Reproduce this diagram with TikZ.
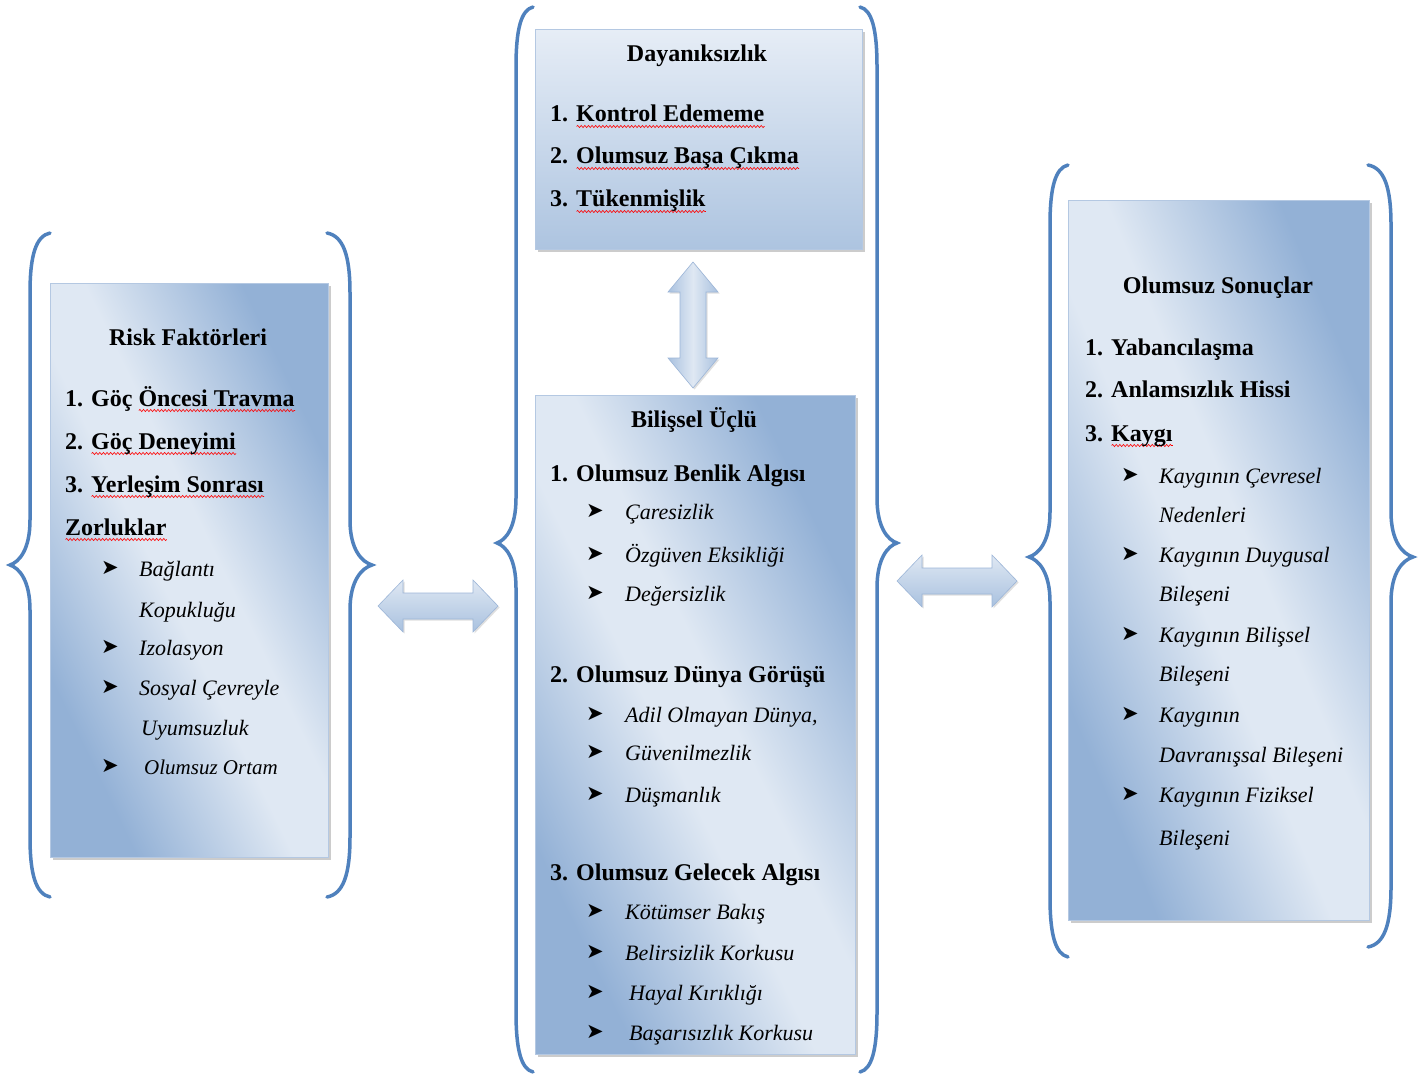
\documentclass[tikz,border=0pt]{standalone}
\usepackage{fontspec}
\setmainfont{Liberation Serif}
\newfontfamily\symf{DejaVu Sans}
\usetikzlibrary{shadows,decorations.pathmorphing}
\definecolor{braceblue}{HTML}{4F81BD}
\definecolor{bxD}{HTML}{93B1D6}
\definecolor{bxL}{HTML}{DFE8F3}
\definecolor{bxB}{HTML}{B4C8E2}
\definecolor{tbT}{HTML}{E6EDF6}
\definecolor{tbB}{HTML}{ADC4E0}
\definecolor{arL}{HTML}{DFE8F3}
\definecolor{arD}{HTML}{A9C1DF}
\definecolor{arB}{HTML}{9DB6D8}
\pgfdeclareverticalshading{boxdiag}{100bp}{color(0bp)=(bxD); color(27bp)=(bxD); color(46bp)=(bxL); color(54bp)=(bxL); color(73bp)=(bxD); color(100bp)=(bxD)}
\newsavebox\sqwbox
\newcommand\sqw[1]{\sbox\sqwbox{#1}\rlap{\raisebox{-4.5pt}{\tikz[baseline=0pt]\draw[red, line width=0.6pt, decorate, decoration={snake, amplitude=1.1pt, segment length=3.6pt}] (0pt,0pt) -- (\wd\sqwbox,0pt);}}\usebox\sqwbox}
\newcommand\curlybr[6]{% end x, spine x, tip x, top y, tip y, bottom y
  \draw[braceline] (#1,#4) .. controls ({#2+0.3*(#1-#2)},{#4+3}) and (#2,{#4+22}) .. (#2,{#4+60})
    -- (#2,{#5-45}) .. controls (#2,{#5-15}) and ({#3+0.45*(#2-#3)},{#5-3}) .. (#3,#5)
    .. controls ({#3+0.45*(#2-#3)},{#5+3}) and (#2,{#5+15}) .. (#2,{#5+45})
    -- (#2,{#6-60}) .. controls (#2,{#6-22}) and ({#2+0.3*(#1-#2)},{#6-3}) .. (#1,#6);}
\newcommand\hdarr[3]{% x1, x2, yc
  \path[blockarrow, top color=arL, bottom color=arD] (#1,#3) -- ({#1+25},{#3-26}) -- ({#1+25},{#3-13}) -- ({#2-25},{#3-13})
    -- ({#2-25},{#3-26}) -- (#2,#3) -- ({#2-25},{#3+26}) -- ({#2-25},{#3+13})
    -- ({#1+25},{#3+13}) -- ({#1+25},{#3+26}) -- cycle;}
\newcommand\vdarr[3]{% xc, y1, y2
  \path[blockarrow, left color=arD, right color=arD, middle color=arL] (#1,#2) -- ({#1+25},{#2+30}) -- ({#1+13},{#2+30}) -- ({#1+13},{#3-30})
    -- ({#1+25},{#3-30}) -- (#1,#3) -- ({#1-25},{#3-30}) -- ({#1-13},{#3-30})
    -- ({#1-13},{#2+30}) -- ({#1-25},{#2+30}) -- cycle;}
\tikzset{
  braceline/.style={draw=braceblue, line width=3.5pt, line cap=round},
  sidebox/.style={draw=bxB, line width=0.8pt, shade, shading=boxdiag,
    shading angle=#1, drop shadow={shadow xshift=3pt, shadow yshift=-3pt, opacity=0.4}},
  topbox/.style={draw=bxB, line width=0.8pt, top color=tbT, bottom color=tbB,
    drop shadow={shadow xshift=3pt, shadow yshift=-3pt, opacity=0.4}},
  blockarrow/.style={draw=arB, line width=0.6pt, drop shadow={shadow xshift=1.5pt, shadow yshift=-1.5pt, opacity=0.25}},
  ttl/.style={font=\fontsize{24}{28}\selectfont\bfseries, anchor=base, inner sep=0pt},
  itm/.style={font=\fontsize{24}{28}\selectfont\bfseries, anchor=base west, inner sep=0pt},
  sub/.style={font=\fontsize{22}{26}\selectfont\itshape, anchor=base west, inner sep=0pt},
  bul/.style={font=\symf\fontsize{21}{24}\selectfont, anchor=base west, inner sep=0pt}
}
\begin{document}
\begin{tikzpicture}[x=1pt,y=-1pt]
\fill[white] (0,0) rectangle (1424,1078);
\useasboundingbox (0,0) rectangle (1424,1078);

% braces
\curlybr{50}{30}{10}{233}{565}{897}
\curlybr{327}{350}{372}{233}{565}{897}
\curlybr{533}{516}{497}{7}{543}{1072}
\curlybr{860}{877}{897}{7}{543}{1072}
\curlybr{1068}{1050}{1029}{165}{557}{957}
\curlybr{1368}{1391}{1413}{165}{557}{947}

% boxes
\node[sidebox=-64.2, anchor=north west, minimum width=278pt, minimum height=574pt] (risk) at (50,283) {};
\node[topbox, anchor=north west, minimum width=327pt, minimum height=220pt] (dayan) at (535,29) {};
\node[sidebox=-64.1, anchor=north west, minimum width=320pt, minimum height=659pt] (bilis) at (535,395) {};
\node[sidebox=-67.3, anchor=north west, minimum width=301pt, minimum height=720pt] (sonuc) at (1068,200) {};

% block arrows
\hdarr{378}{498}{606}
\hdarr{897}{1017}{581}
\vdarr{693}{262}{388}

% Risk Faktorleri
\node[ttl] (rt) at (188,345) {Risk Faktörleri};
\node[itm] (r1) at (65,406) {1. Göç \sqw{Öncesi Travma}};
\node[itm] (r2) at (65,449) {2. \sqw{Göç Deneyimi}};
\node[itm] (r3) at (65,492) {3. \sqw{Yerleşim Sonrası}};
\node[itm] (r3b) at (65,535) {\sqw{Zorluklar}};
\node[bul] (rb1) at (101,574) {➤};
\node[sub] (rs1) at (139,576) {Bağlantı};
\node[sub] (rs1b) at (139,617) {Kopukluğu};
\node[bul] (rb2) at (101,653) {➤};
\node[sub] (rs2) at (139,655) {Izolasyon};
\node[bul] (rb3) at (101,693) {➤};
\node[sub] (rs3) at (139,695) {Sosyal Çevreyle};
\node[sub] (rs3b) at (141,735) {Uyumsuzluk};
\node[bul] (rb4) at (101,772) {➤};
\node[sub, font=\fontsize{21}{25}\selectfont\itshape] (rs4) at (144,774) {Olumsuz Ortam};

% Dayaniksizlik
\node[ttl] (dt) at (697,62) {Dayanıksızlık};
\node[itm] (d1) at (550,122) {1. \sqw{Kontrol Edememe}};
\node[itm] (d2) at (550,164) {2. \sqw{Olumsuz Başa Çıkma}};
\node[itm] (d3) at (550,207) {3. \sqw{Tükenmişlik}};

% Bilissel Uclu
\node[ttl] (bt) at (694,427) {Bilişsel Üçlü};
\node[itm] (b1) at (550,481) {1. Olumsuz Benlik Algısı};
\node[bul] (bb1) at (586,517) {➤};
\node[sub] (bs1) at (625,519) {Çaresizlik};
\node[bul] (bb2) at (586,560) {➤};
\node[sub] (bs2) at (625,562) {Özgüven Eksikliği};
\node[bul] (bb3) at (586,599) {➤};
\node[sub] (bs3) at (625,601) {Değersizlik};
\node[itm] (b2) at (550,682) {2. Olumsuz Dünya Görüşü};
\node[bul] (bb4) at (586,720) {➤};
\node[sub] (bs4) at (625,722) {Adil Olmayan Dünya,};
\node[bul] (bb5) at (586,758) {➤};
\node[sub] (bs5) at (625,760) {Güvenilmezlik};
\node[bul] (bb6) at (586,800) {➤};
\node[sub] (bs6) at (625,802) {Düşmanlık};
\node[itm] (b3) at (550,880) {3. Olumsuz Gelecek Algısı};
\node[bul] (bb7) at (586,917) {➤};
\node[sub] (bs7) at (625,919) {Kötümser Bakış};
\node[bul] (bb8) at (586,958) {➤};
\node[sub] (bs8) at (625,960) {Belirsizlik Korkusu};
\node[bul] (bb9) at (586,998) {➤};
\node[sub] (bs9) at (629,1000) {Hayal Kırıklığı};
\node[bul] (bb10) at (586,1038) {➤};
\node[sub] (bs10) at (629,1040) {Başarısızlık Korkusu};

% Olumsuz Sonuclar
\node[ttl] (st) at (1218,293) {Olumsuz Sonuçlar};
\node[itm] (s1) at (1085,355) {1. Yabancılaşma};
\node[itm] (s2) at (1085,397) {2. Anlamsızlık Hissi};
\node[itm] (s3) at (1085,441) {3. \sqw{Kaygı}};
\node[bul] (sb1) at (1121,481) {➤};
\node[sub] (ss1) at (1159,483) {Kaygının Çevresel};
\node[sub] (ss1b) at (1159,522) {Nedenleri};
\node[bul] (sb2) at (1121,560) {➤};
\node[sub] (ss2) at (1159,562) {Kaygının Duygusal};
\node[sub] (ss2b) at (1159,601) {Bileşeni};
\node[bul] (sb3) at (1121,640) {➤};
\node[sub] (ss3) at (1159,642) {Kaygının Bilişsel};
\node[sub] (ss3b) at (1159,681) {Bileşeni};
\node[bul] (sb4) at (1121,720) {➤};
\node[sub] (ss4) at (1159,722) {Kaygının};
\node[sub] (ss4b) at (1159,762) {Davranışsal Bileşeni};
\node[bul] (sb5) at (1121,800) {➤};
\node[sub] (ss5) at (1159,802) {Kaygının Fiziksel};
\node[sub] (ss5b) at (1159,845) {Bileşeni};
\end{tikzpicture}
\end{document}
